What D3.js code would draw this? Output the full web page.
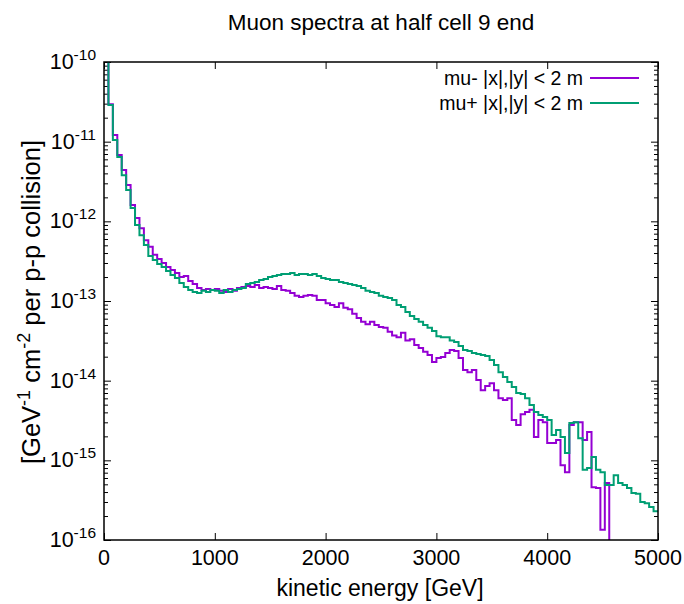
<!DOCTYPE html>
<html><head><meta charset="utf-8">
<script src="https://cdn.jsdelivr.net/npm/d3@7"></script>
<style>
body{margin:0;background:#fff;}
svg text{font-family:"Liberation Sans",Arial,sans-serif;fill:#000;}
</style></head>
<body>
<svg id="chart" width="684" height="604"></svg>
<script>
// ---- data ----
const binWidth = 40; // GeV
const xTicks = [0, 1000, 2000, 3000, 4000, 5000];
const yTickExps = [-10, -11, -12, -13, -14, -15, -16];
const seriesNames = ["mu- |x|,|y| < 2 m", "mu+ |x|,|y| < 2 m"];
const seriesColors = ["#9400d3", "#009e73"];

// mu- spectrum, one value per 40 GeV bin starting at 0 GeV (0 = empty bin)
const muMinus = [
 1.2e-10, 2.95e-11, 1.21e-11, 6.8e-12, 4.4e-12, 2.86e-12, 1.6e-12, 1.1e-12, 8.2e-13, 5.8e-13,
 4.8e-13, 3.8e-13, 3.37e-13, 3.0e-13, 2.67e-13, 2.45e-13, 2.25e-13, 2.0e-13, 2.06e-13, 1.78e-13,
 1.63e-13, 1.46e-13, 1.37e-13, 1.41e-13, 1.37e-13, 1.41e-13, 1.34e-13, 1.30e-13, 1.41e-13, 1.34e-13,
 1.46e-13, 1.5e-13, 1.54e-13, 1.5e-13, 1.59e-13, 1.46e-13, 1.5e-13, 1.46e-13, 1.41e-13, 1.54e-13,
 1.37e-13, 1.34e-13, 1.26e-13, 1.16e-13, 1.12e-13, 1.16e-13, 1.19e-13, 1.16e-13, 1.03e-13, 1.03e-13,
 9.4e-14, 8.9e-14, 8.4e-14, 9.4e-14, 8.2e-14, 7.9e-14, 6.9e-14, 6.1e-14, 5.5e-14, 5.1e-14,
 5.5e-14, 5.0e-14, 4.7e-14, 4.6e-14, 4.1e-14, 3.7e-14, 3.5e-14, 4.0e-14, 3.2e-14, 3.3e-14,
 2.8e-14, 2.57e-14, 2.3e-14, 2.1e-14, 1.71e-14, 1.93e-14, 1.98e-14, 2.22e-14, 2.43e-14, 2.36e-14,
 1.93e-14, 1.36e-14, 1.28e-14, 1.36e-14, 1.02e-14, 7.6e-15, 8.6e-15, 9.3e-15, 7.6e-15, 6.0e-15,
 5.7e-15, 6.0e-15, 3.2e-15, 2.77e-15, 3.8e-15, 4.05e-15, 4.3e-15, 1.96e-15, 3.2e-15, 3.0e-15,
 1.65e-15, 1.65e-15, 1.8e-15, 8.7e-16, 7.1e-16, 2.77e-15, 3.0e-15, 3.0e-15, 1.8e-15, 2.27e-15,
 4.6e-16, 4.5e-16, 1.34e-16, 5.2e-16, 0, 0, 0, 0, 0, 0,
 0, 0, 0, 0, 0
];
// mu+ spectrum
const muPlus = [
 1.2e-10, 2.88e-11, 1.05e-11, 6.4e-12, 3.8e-12, 2.47e-12, 1.47e-12, 9.0e-13, 6.7e-13, 5.05e-13,
 3.67e-13, 3.27e-13, 2.91e-13, 2.67e-13, 2.38e-13, 2.12e-13, 1.94e-13, 1.68e-13, 1.5e-13, 1.37e-13,
 1.30e-13, 1.26e-13, 1.34e-13, 1.30e-13, 1.37e-13, 1.34e-13, 1.26e-13, 1.37e-13, 1.30e-13, 1.37e-13,
 1.41e-13, 1.46e-13, 1.63e-13, 1.68e-13, 1.73e-13, 1.84e-13, 1.89e-13, 2.0e-13, 2.06e-13, 2.12e-13,
 2.18e-13, 2.18e-13, 2.25e-13, 2.12e-13, 2.18e-13, 2.18e-13, 2.12e-13, 2.18e-13, 2.06e-13, 1.94e-13,
 1.89e-13, 1.84e-13, 1.84e-13, 1.73e-13, 1.68e-13, 1.63e-13, 1.59e-13, 1.54e-13, 1.46e-13, 1.34e-13,
 1.30e-13, 1.26e-13, 1.16e-13, 1.12e-13, 1.09e-13, 1.03e-13, 8.9e-14, 8.4e-14, 7.3e-14, 6.5e-14,
 5.95e-14, 5.5e-14, 5.0e-14, 4.6e-14, 4.2e-14, 3.6e-14, 3.5e-14, 3.5e-14, 3.2e-14, 3.06e-14,
 2.73e-14, 2.43e-14, 2.36e-14, 2.22e-14, 2.16e-14, 2.1e-14, 2.04e-14, 1.82e-14, 1.57e-14, 1.28e-14,
 1.11e-14, 9.6e-15, 8.3e-15, 7.0e-15, 6.8e-15, 6.0e-15, 4.95e-15, 4.05e-15, 3.7e-15, 3.5e-15,
 3.2e-15, 2.08e-15, 2.4e-15, 1.96e-15, 1.24e-15, 2.94e-15, 3.0e-15, 1.9e-15, 7.6e-16, 8.0e-16,
 1.1e-15, 7.6e-16, 7.1e-16, 4.9e-16, 4.9e-16, 6.5e-16, 5.2e-16, 4.9e-16, 4.5e-16, 3.9e-16,
 3.8e-16, 3.0e-16, 2.9e-16, 2.6e-16, 2.3e-16
];

// ---- layout ----
const L = 104, R = 658, T = 62, B = 540;
const svg = d3.select("#chart");
const x = d3.scaleLinear().domain([0, 5000]).range([L, R]);
const y = d3.scaleLog().domain([1e-16, 1e-10]).range([B, T]);

svg.append("defs").append("clipPath").attr("id", "clip")
  .append("rect").attr("x", L).attr("y", T).attr("width", R - L).attr("height", B - T);

// axes (ticks inward, mirrored)
const minorVals = [];
for (let e = -16; e < -10; e++) for (let m = 2; m <= 9; m++) minorVals.push(m * Math.pow(10, e));
const majorVals = yTickExps.map(e => Math.pow(10, e));

function styleAxis(g) {
  g.select(".domain").remove();
  g.selectAll("line").attr("stroke", "#000").attr("stroke-width", 1);
}
svg.append("g").attr("transform", `translate(0,${B})`)
  .call(d3.axisBottom(x).tickValues(xTicks).tickSizeInner(-7).tickSizeOuter(0).tickFormat(""))
  .call(styleAxis);
svg.append("g").attr("transform", `translate(0,${T})`)
  .call(d3.axisTop(x).tickValues(xTicks).tickSizeInner(-7).tickSizeOuter(0).tickFormat(""))
  .call(styleAxis);
[[L, d3.axisLeft], [R, d3.axisRight]].forEach(([px, ax]) => {
  svg.append("g").attr("transform", `translate(${px},0)`)
    .call(ax(y).tickValues(majorVals).tickSizeInner(-7).tickSizeOuter(0).tickFormat(""))
    .call(styleAxis);
  svg.append("g").attr("transform", `translate(${px},0)`)
    .call(ax(y).tickValues(minorVals).tickSizeInner(-4).tickSizeOuter(0).tickFormat(""))
    .call(styleAxis);
});

// tick labels
svg.append("g").selectAll("text").data(xTicks).join("text")
  .attr("x", d => x(d)).attr("y", 565).attr("text-anchor", "middle")
  .attr("font-size", 21.5).text(d => d);
const yl = svg.append("g").selectAll("text").data(yTickExps).join("text")
  .attr("x", 96).attr("y", d => y(Math.pow(10, d)) + 7).attr("text-anchor", "end")
  .attr("font-size", 21.5);
yl.append("tspan").text("10");
yl.append("tspan").attr("font-size", 15.5).attr("dy", -9).text(d => d);

// series
function stepPoints(vals) {
  const pts = [];
  vals.forEach((v, i) => {
    if (v > 0) {
      pts.push([x(i * binWidth), y(v)]);
      pts.push([x((i + 1) * binWidth), y(v)]);
    }
  });
  const last = vals.reduce((a, v, i) => v > 0 ? i : a, -1);
  if ((last + 1) * binWidth < 5000) pts.push([x((last + 1) * binWidth), B + 10]);
  return pts;
}
const line = d3.line();
const plot = svg.append("g").attr("clip-path", "url(#clip)");
[muMinus, muPlus].forEach((vals, si) => {
  plot.append("path").attr("d", line(stepPoints(vals)))
    .attr("fill", "none").attr("stroke", seriesColors[si]).attr("stroke-width", 2)
    .attr("stroke-linejoin", "miter");
});

// frame
svg.append("rect").attr("x", L).attr("y", T).attr("width", R - L).attr("height", B - T)
  .attr("fill", "none").attr("stroke", "#000").attr("stroke-width", 1.5);

// legend
const leg = svg.append("g").selectAll("g").data(seriesNames).join("g")
  .attr("transform", (d, i) => `translate(0,${78 + i * 25})`);
leg.append("text").attr("x", 583).attr("y", 7).attr("text-anchor", "end")
  .attr("font-size", 19.5).text(d => d);
leg.append("line").attr("x1", 590).attr("x2", 639).attr("y1", 0).attr("y2", 0)
  .attr("stroke", (d, i) => seriesColors[i]).attr("stroke-width", 2);

// titles
svg.append("text").attr("x", 381).attr("y", 30).attr("text-anchor", "middle")
  .attr("font-size", 22.5).text("Muon spectra at half cell 9 end");
svg.append("text").attr("x", 380).attr("y", 596).attr("text-anchor", "middle")
  .attr("font-size", 23).text("kinetic energy [GeV]");
const ylab = svg.append("text").attr("transform", "translate(40,302) rotate(-90)")
  .attr("text-anchor", "middle").attr("font-size", 25.5);
ylab.append("tspan").text("[GeV");
ylab.append("tspan").attr("font-size", 18).attr("dy", -10).text("-1");
ylab.append("tspan").attr("dy", 10).text(" cm");
ylab.append("tspan").attr("font-size", 18).attr("dy", -10).text("-2");
ylab.append("tspan").attr("dy", 10).text(" per p-p collision]");
</script>
</body></html>
